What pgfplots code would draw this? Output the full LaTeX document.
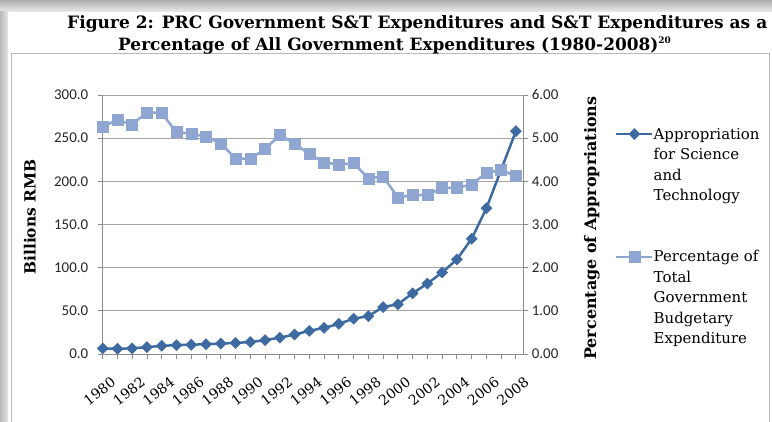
\documentclass[border=0pt]{standalone}
\usepackage{fontspec}
\setmainfont{DejaVu Serif}
\newfontfamily\tickfont{Carlito}
\usepackage{pgfplots}
\usepackage{pgfplotstable}
\pgfplotsset{compat=1.18}

\definecolor{stblue}{RGB}{62,106,162}
\definecolor{pctblue}{RGB}{143,165,210}
\definecolor{gridgray}{RGB}{165,165,165}
\definecolor{axisgray}{RGB}{140,140,140}

% idx: category position, approp: billions RMB, pct: share of total budget (%)
\pgfplotstableread{
idx year approp pct
0  1980 6.46   5.27
1  1981 6.16   5.42
2  1982 6.53   5.32
3  1983 7.96   5.60
4  1984 9.47   5.58
5  1985 10.26  5.14
6  1986 10.72  5.11
7  1987 11.36  5.03
8  1988 12.12  4.88
9  1989 12.79  4.53
10 1990 13.91  4.52
11 1991 16.06  4.75
12 1992 18.91  5.07
13 1993 22.56  4.88
14 1994 26.83  4.63
15 1995 30.24  4.44
16 1996 34.87  4.39
17 1997 40.89  4.42
18 1998 43.86  4.07
19 1999 54.39  4.11
20 2000 57.56  3.63
21 2001 70.33  3.68
22 2002 81.62  3.68
23 2003 94.47  3.85
24 2004 109.53 3.85
25 2005 133.49 3.93
26 2006 168.85 4.20
27 2007 213.57 4.26
28 2008 258.20 4.12
}\stdata

\pgfplotsset{
  common/.style={
    at={(102.7bp,67bp)}, anchor=south west,
    width=420.6bp, height=259bp, scale only axis,
    xmin=0, xmax=28.5, ymin=0,
    clip=false,
    axis line style={axisgray, line width=0.9bp},
    tick style={axisgray, line width=0.9bp},
    tick align=outside, major tick length=5bp,
    /pgf/number format/assume math mode=true,
    y tick label style={font=\tickfont\fontsize{15}{15}\selectfont, text=black!85},
    legend style={draw=none, fill=none, inner sep=0pt, anchor=north west,
      font=\fontsize{15}{20.5}\selectfont, cells={anchor=base west},
      nodes={inner sep=0pt, xshift=1bp}},
    legend image code/.code={%
      \draw[mark repeat=2, mark phase=2, #1]
        plot coordinates {(0bp,5bp) (18bp,5bp) (36bp,5bp)};},
  },
}

\begin{document}
\begin{tikzpicture}
\begin{scope}[x=1bp, y=1bp]
\useasboundingbox (0,0) rectangle (772,421);
\clip (0,0) rectangle (772,421);
\fill[white] (0,0) rectangle (772,421);
% page shadow
\shade[top color=gray!65, bottom color=gray!15] (0,409) rectangle (772,421);
\shade[left color=gray!55, right color=gray!20] (0,0) rectangle (8,409);
\draw[gray!55, line width=1bp] (11,-5) rectangle (769,368);

% title
\node[anchor=base west, inner sep=0pt, font=\bfseries\fontsize{17.1}{17.1}\selectfont]
  at (67,392) {Figure 2: PRC Government S\&T Expenditures and S\&T Expenditures as a};
\node[anchor=base west, inner sep=0pt, font=\bfseries\fontsize{17}{17}\selectfont]
  at (118,371) {Percentage of All Government Expenditures (1980-2008)\textsuperscript{\fontsize{9}{9}\selectfont 20}};
\end{scope}

% left axis: billions RMB
\begin{axis}[common,
  ymax=300,
  axis x line*=bottom, axis y line*=left,
  ytick={0,50,...,300},
  ymajorgrids, grid style={gridgray, line width=0.8bp},
  yticklabel style={/pgf/number format/fixed, /pgf/number format/fixed zerofill,
    /pgf/number format/precision=1, xshift=-6bp},
  xtick={0,...,28},
  xticklabels={1980,,1982,,1984,,1986,,1988,,1990,,1992,,1994,,1996,,1998,,2000,,2002,,2004,,2006,,2008},
  x tick label style={xshift=7.5bp, yshift=-17bp, rotate=38, anchor=north east,
    inner sep=0pt, font=\fontsize{14}{14}\selectfont},
  ylabel={Billions RMB},
  ylabel style={font=\bfseries\fontsize{15.5}{15.5}\selectfont,
    at={(axis description cs:-0.173,0.529)}, anchor=center},
  legend style={at={(axis description cs:1.218,0.8855)}},
]
\addplot[stblue, line width=2.5bp, mark=square*, mark size=3.9bp,
  mark options={rotate=45, solid, fill=stblue, line width=0.5bp}]
  table[x=idx, y=approp] {\stdata};
\addlegendentry{\begin{tabular}[t]{@{}l@{}}Appropriation\\ for Science\\ and\\ Technology\end{tabular}}
\end{axis}

% right axis: percentage
\begin{axis}[common,
  ymax=6,
  axis x line=none, axis y line*=right,
  ytick={0,1,...,6},
  yticklabel style={/pgf/number format/fixed, /pgf/number format/fixed zerofill,
    /pgf/number format/precision=2},
  ylabel={Percentage of Appropriations},
  ylabel style={font=\bfseries\fontsize{16}{16}\selectfont,
    at={(axis description cs:1.163,0.486)}, anchor=center},
  legend style={at={(axis description cs:1.218,0.4118)}},
]
\addplot[pctblue, line width=2.5bp, mark=square*, mark size=5.5bp,
  mark options={solid, fill=pctblue, line width=0.5bp}]
  table[x=idx, y=pct] {\stdata};
\addlegendentry{\begin{tabular}[t]{@{}l@{}}Percentage of\\ Total\\ Government\\ Budgetary\\ Expenditure\end{tabular}}
\end{axis}
\end{tikzpicture}
\end{document}
